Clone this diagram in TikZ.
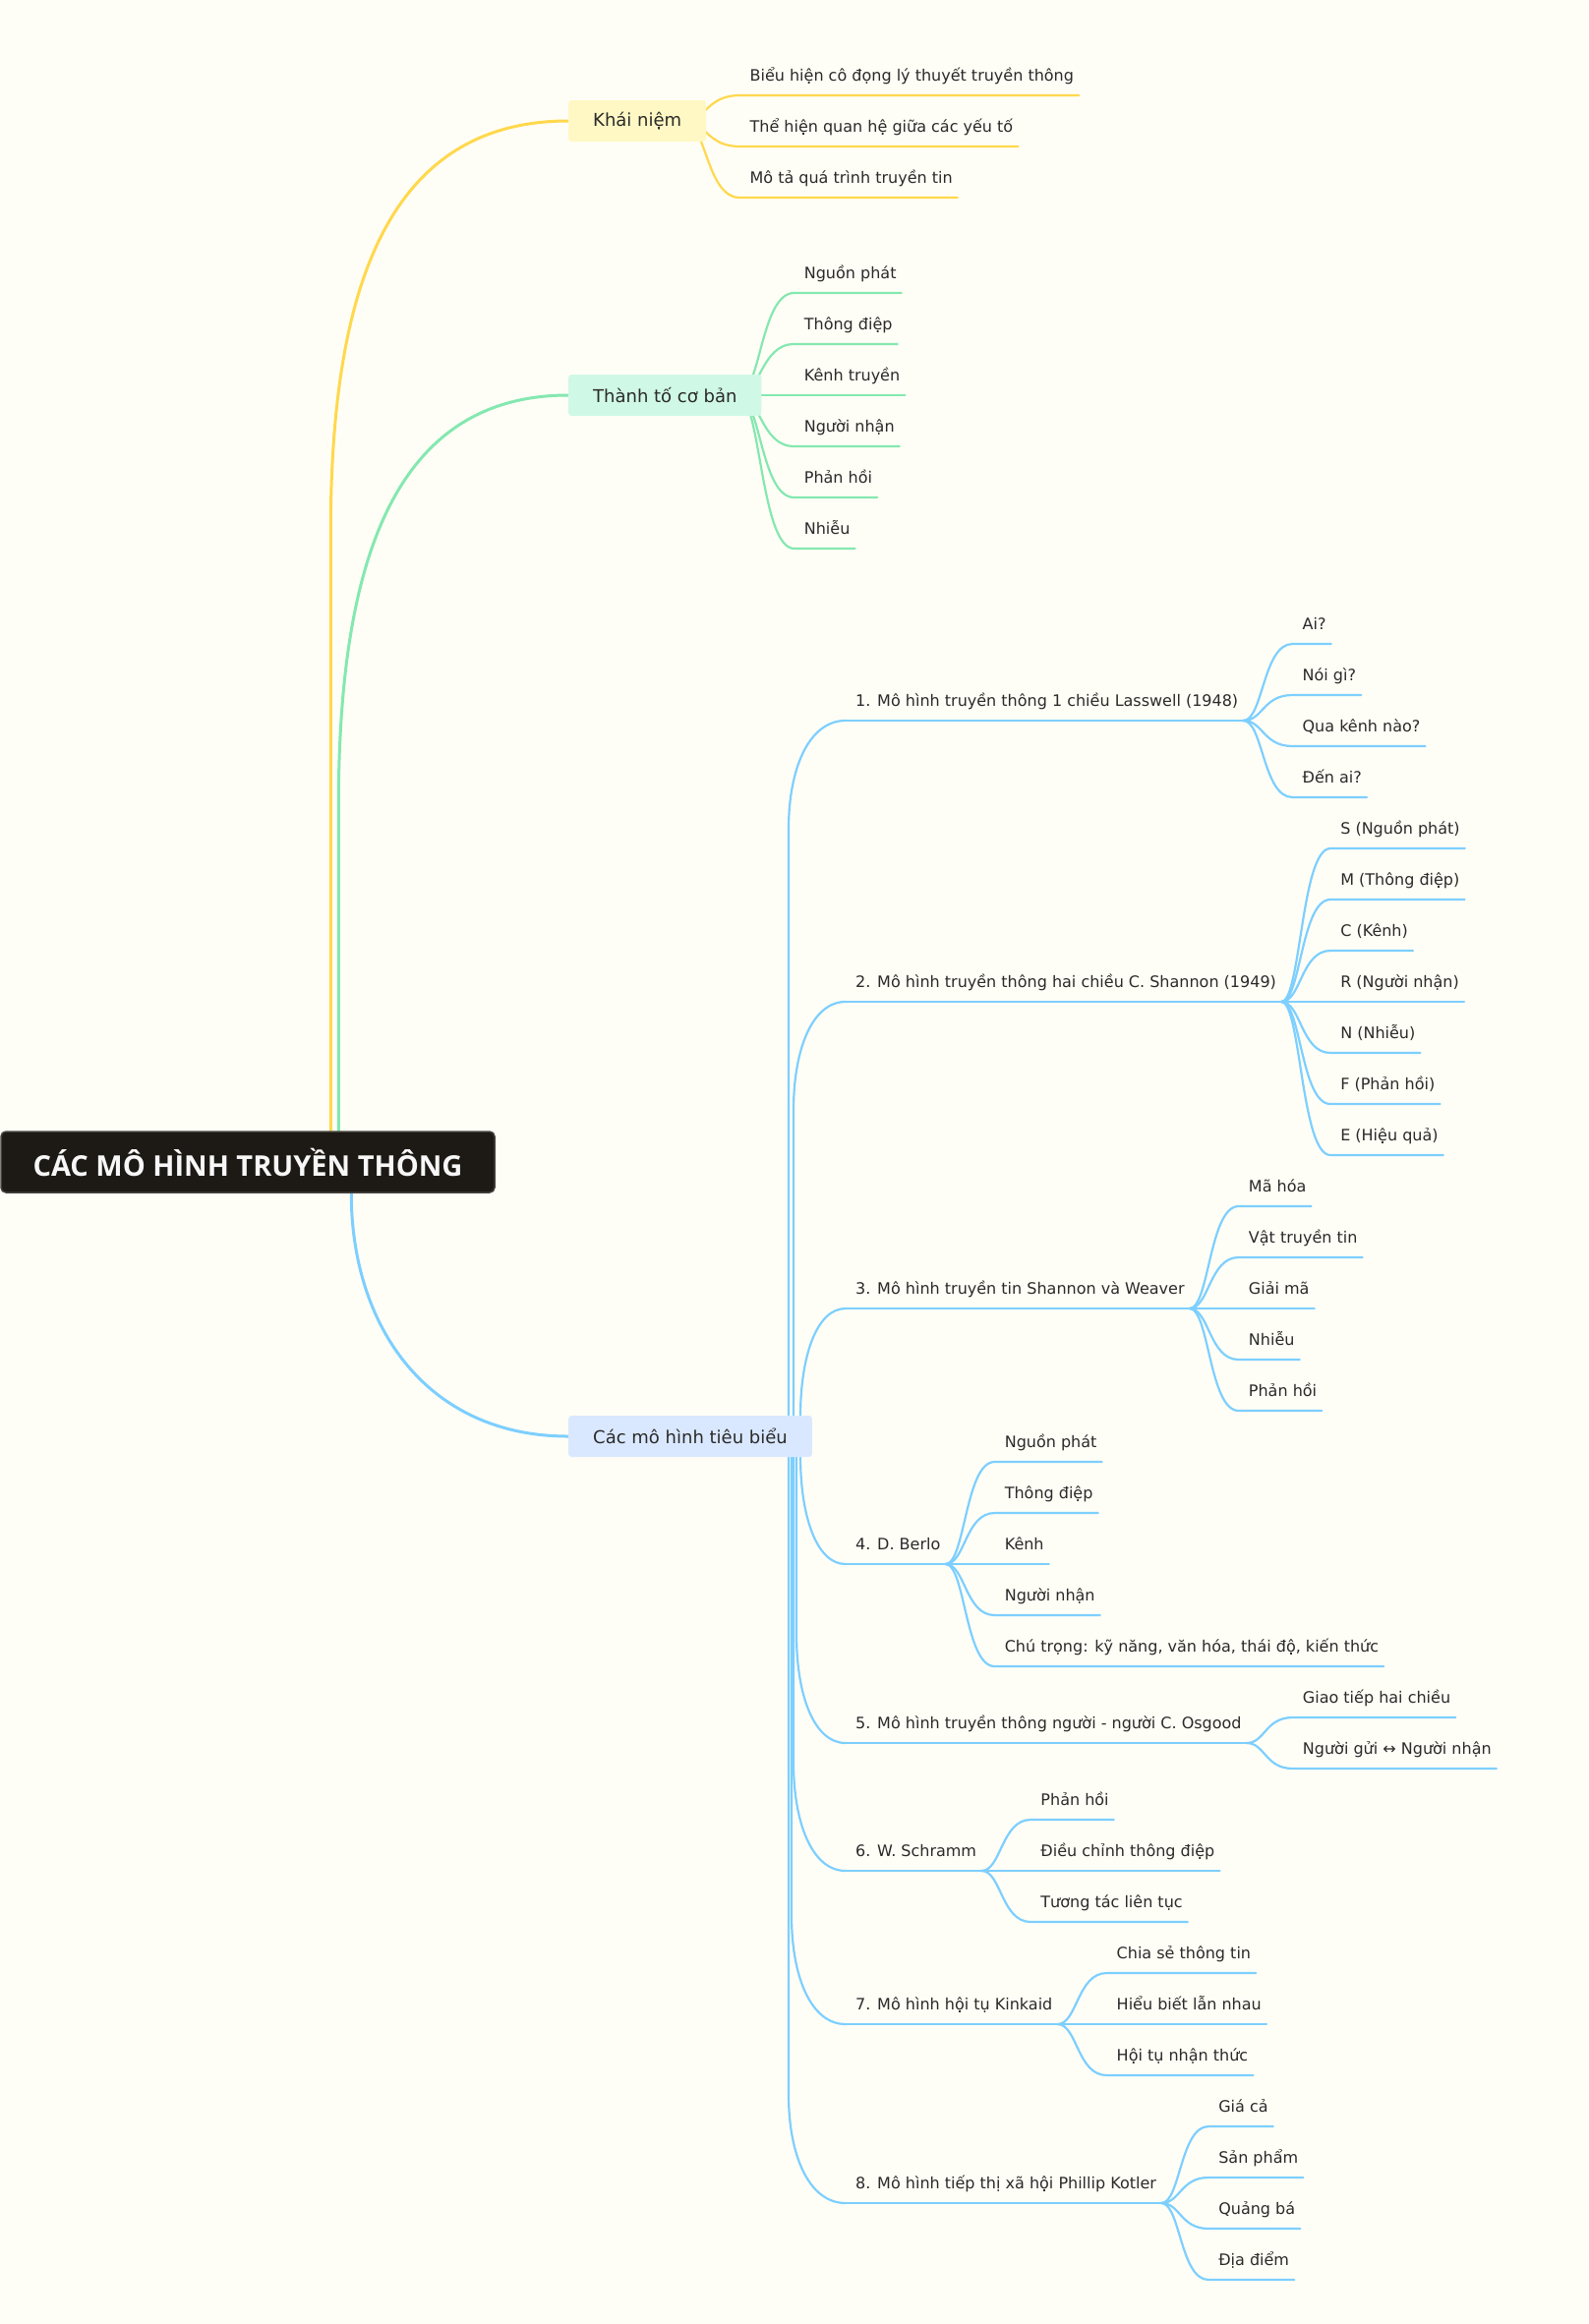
\documentclass[tikz,border=0pt]{standalone}
\usepackage{fontspec}
\setmainfont{DejaVu Sans}
\newfontfamily\titlefont{Open Sans}
\usetikzlibrary{calc}
\definecolor{bgc}{HTML}{FFFEF6}
\definecolor{txt}{HTML}{2A2A2A}
\definecolor{yel}{HTML}{FFD84D}
\definecolor{yelfill}{HTML}{FFF8C4}
\definecolor{grn}{HTML}{84E8B0}
\definecolor{grnfill}{HTML}{D0F8E6}
\definecolor{blu}{HTML}{7DCFFF}
\definecolor{blufill}{HTML}{DAE8FF}
\definecolor{rootfill}{HTML}{1D1A16}
\definecolor{rootline}{HTML}{45423E}
\pgfdeclarelayer{back}\pgfdeclarelayer{links}
\pgfsetlayers{back,links,main}
\tikzset{
  lbl/.style={font=\fontsize{16}{19}\selectfont, text=txt, anchor=south west, inner sep=0pt,
    text height=12pt, text depth=14pt,
    execute at begin node={\hspace*{10pt}}, execute at end node={\hspace*{5pt}}},
  lonebox/.style={rounded corners=3pt, font=\fontsize{18}{22}\selectfont, text=txt,
    inner xsep=25pt, inner ysep=0pt, minimum height=42pt, anchor=west},
  rootbox/.style={fill=rootfill, draw=rootline, line width=1.5pt, rounded corners=5pt,
    minimum width=502pt, minimum height=62pt, inner sep=0pt, text=white!97!black,
    font=\titlefont\bfseries\fontsize{29}{34}\selectfont},
  lk/.style={line width=2.2pt, line cap=round},
  rk/.style={line width=3pt, line cap=round}
}
% S-shaped link from a hub to a child's underline
\newcommand\childlink[3]{%
  \draw[lk,#1] let \p1=(#2), \p2=(#3.south west) in
    (\p1) .. controls ({\x1+0.4*(\x2-\x1)},\y1) and ({\x1+0.4*(\x2-\x1)},\y2) .. (\p2) -- (#3.south east);}
% vertical run, then a bend of height at most #2 (second control at fraction #3) into the target
\newcommand\bendlink[5]{%
  \draw[#1] let \p1=(#4), \p2=(#5), \n1={min(abs(\y2-\y1),#2)}, \n2={sign(\y2-\y1)} in
    (\p1) -- (\x1,{\y2-\n1*\n2}) .. controls (\x1,{\y2-0.45*\n1*\n2}) and ({\x1+#3*(\x2-\x1)},\y2) .. (\p2);}
\newcommand\kid[6]{%
  \node[lbl] (#5) at ($(#2)+(#3,#4)$) {#6};
  \begin{pgfonlayer}{links}\childlink{#1}{#2}{#5}\end{pgfonlayer}}
\newcommand\modelkid[4]{% #1 x offset of the trunk, #2 dy, #3 name, #4 text
  \node[lbl] (#3) at ($(cmh)+(59,#2)$) {#4};
  \begin{pgfonlayer}{links}\bendlink{lk,blu}{110}{0.35}{$(cmh)+(#1,0)$}{#3.south west}
  \draw[lk,blu] (#3.south west) -- (#3.south east);\end{pgfonlayer}}

\begin{document}
\begin{tikzpicture}[x=1pt,y=-1pt]
\useasboundingbox (0,0) rectangle (1615,2364);
\begin{pgfonlayer}{back}
\fill[bgc] (0,0) rectangle (1615,2364);
\end{pgfonlayer}

% root
\node[rootbox] (root) at (252,1182) {CÁC MÔ HÌNH TRUYỀN THÔNG};

% level 1
\node[lonebox, fill=yelfill] (kn) at (578,123) {Khái niệm};
\node[lonebox, fill=grnfill] (tt) at (578,402) {Thành tố cơ bản};
\node[lonebox, fill=blufill] (cm) at (578,1461) {Các mô hình tiêu biểu};

\coordinate (ry) at ($(root.north west)+(336,0)$);
\coordinate (rg) at ($(root.north west)+(344,0)$);
\coordinate (rb) at ($(root.south west)+(357,0)$);
\begin{pgfonlayer}{links}
\bendlink{rk,yel}{420}{0.2}{ry}{kn.west}
\bendlink{rk,grn}{420}{0.2}{rg}{tt.west}
\bendlink{rk,blu}{300}{0.35}{rb}{cm.west}
\end{pgfonlayer}

\coordinate (knh) at ($(kn.east)+(-23,0)$);
\coordinate (tth) at ($(tt.east)+(-24,0)$);
\coordinate (cmh) at ($(cm.east)+(-25,0)$);

% Khai niem
\kid{yel}{knh}{57}{-26}{kn1}{Biểu hiện cô đọng lý thuyết truyền thông}
\kid{yel}{knh}{57}{26}{kn2}{Thể hiện quan hệ giữa các yếu tố}
\kid{yel}{knh}{57}{78}{kn3}{Mô tả quá trình truyền tin}

% Thanh to co ban
\kid{grn}{tth}{57}{-104}{tt1}{Nguồn phát}
\kid{grn}{tth}{57}{-52}{tt2}{Thông điệp}
\kid{grn}{tth}{57}{0}{tt3}{Kênh truyền}
\kid{grn}{tth}{57}{52}{tt4}{Người nhận}
\kid{grn}{tth}{57}{104}{tt5}{Phản hồi}
\kid{grn}{tth}{57}{156}{tt6}{Nhiễu}

% models
\modelkid{1}{-728}{m1}{1. Mô hình truyền thông 1 chiều Lasswell (1948)}
\modelkid{6}{-442}{m2}{2. Mô hình truyền thông hai chiều C. Shannon (1949)}
\modelkid{13}{-130}{m3}{3. Mô hình truyền tin Shannon và Weaver}
\modelkid{13}{130}{m4}{4. D. Berlo}
\modelkid{9}{312}{m5}{5. Mô hình truyền thông người - người C. Osgood}
\modelkid{6}{442}{m6}{6. W. Schramm}
\modelkid{4}{598}{m7}{7. Mô hình hội tụ Kinkaid}
\modelkid{1}{780}{m8}{8. Mô hình tiếp thị xã hội Phillip Kotler}

% 1 Lasswell
\kid{blu}{m1.south east}{50}{-78}{m1a}{Ai?}
\kid{blu}{m1.south east}{50}{-26}{m1b}{Nói gì?}
\kid{blu}{m1.south east}{50}{26}{m1c}{Qua kênh nào?}
\kid{blu}{m1.south east}{50}{78}{m1d}{Đến ai?}

% 2 Shannon
\kid{blu}{m2.south east}{50}{-156}{m2a}{S (Nguồn phát)}
\kid{blu}{m2.south east}{50}{-104}{m2b}{M (Thông điệp)}
\kid{blu}{m2.south east}{50}{-52}{m2c}{C (Kênh)}
\kid{blu}{m2.south east}{50}{0}{m2d}{R (Người nhận)}
\kid{blu}{m2.south east}{50}{52}{m2e}{N (Nhiễu)}
\kid{blu}{m2.south east}{50}{104}{m2f}{F (Phản hồi)}
\kid{blu}{m2.south east}{50}{156}{m2g}{E (Hiệu quả)}

% 3 Shannon & Weaver
\kid{blu}{m3.south east}{50}{-104}{m3a}{Mã hóa}
\kid{blu}{m3.south east}{50}{-52}{m3b}{Vật truyền tin}
\kid{blu}{m3.south east}{50}{0}{m3c}{Giải mã}
\kid{blu}{m3.south east}{50}{52}{m3d}{Nhiễu}
\kid{blu}{m3.south east}{50}{104}{m3e}{Phản hồi}

% 4 Berlo
\kid{blu}{m4.south east}{50}{-104}{m4a}{Nguồn phát}
\kid{blu}{m4.south east}{50}{-52}{m4b}{Thông điệp}
\kid{blu}{m4.south east}{50}{0}{m4c}{Kênh}
\kid{blu}{m4.south east}{50}{52}{m4d}{Người nhận}
\kid{blu}{m4.south east}{50}{104}{m4e}{Chú trọng: kỹ năng, văn hóa, thái độ, kiến thức}

% 5 Osgood
\kid{blu}{m5.south east}{47}{-26}{m5a}{Giao tiếp hai chiều}
\kid{blu}{m5.south east}{47}{26}{m5b}{Người gửi ↔ Người nhận}

% 6 Schramm
\kid{blu}{m6.south east}{50}{-52}{m6a}{Phản hồi}
\kid{blu}{m6.south east}{50}{0}{m6b}{Điều chỉnh thông điệp}
\kid{blu}{m6.south east}{50}{52}{m6c}{Tương tác liên tục}

% 7 Kinkaid
\kid{blu}{m7.south east}{50}{-52}{m7a}{Chia sẻ thông tin}
\kid{blu}{m7.south east}{50}{0}{m7b}{Hiểu biết lẫn nhau}
\kid{blu}{m7.south east}{50}{52}{m7c}{Hội tụ nhận thức}

% 8 Kotler
\kid{blu}{m8.south east}{48}{-78}{m8a}{Giá cả}
\kid{blu}{m8.south east}{48}{-26}{m8b}{Sản phẩm}
\kid{blu}{m8.south east}{48}{26}{m8c}{Quảng bá}
\kid{blu}{m8.south east}{48}{78}{m8d}{Địa điểm}
\end{tikzpicture}
\end{document}
